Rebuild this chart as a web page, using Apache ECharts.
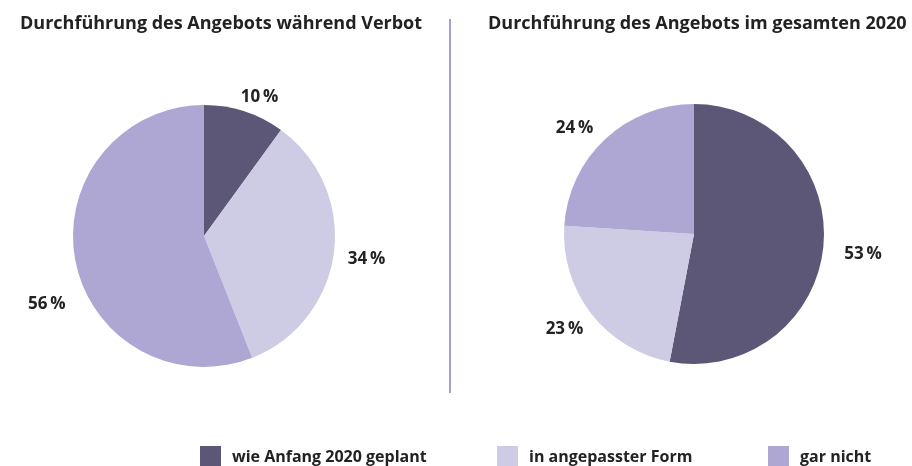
<!DOCTYPE html>
<html>
<head>
<meta charset="utf-8">
<script src="https://cdn.jsdelivr.net/npm/echarts@6/dist/echarts.min.js"></script>
<style>
	html, body { margin: 0; padding: 0; background: #fff; }
	#chart { width: 912px; height: 466px; }
</style>
</head>
<body>
<div id="chart"></div>
<script>
const categories = ["wie Anfang 2020 geplant", "in angepasster Form", "gar nicht"];
const verbotValues = [10, 34, 56];
const gesamtValues = [53, 23, 24];
const titles = ["Durchführung des Angebots während Verbot", "Durchführung des Angebots im gesamten 2020"];

const colors = ["#5c5776", "#cecbe5", "#afa7d3"];
const font = "'Open Sans', sans-serif";

// small nudges so the labels sit where the reference puts them
const verbotNudge = [[-17, -1], [-9, 5], [13, 41]];
const gesamtNudge = [[-2, 7], [12, 7], [7, -1]];

const chart = echarts.init(document.getElementById("chart"), null, { renderer: "canvas" });

function toData(values) {
	return values.map((v, i) => ({ name: categories[i], value: v }));
}

function pieSeries(values, center, radius, nudge) {
	return {
		type: "pie",
		center: center,
		radius: radius,
		startAngle: 90,
		clockwise: true,
		animation: false,
		data: toData(values),
		itemStyle: { borderWidth: 0 },
		label: {
			show: true,
			position: "outside",
			formatter: "{c}\u2009%",
			color: "#222",
			fontFamily: font,
			fontWeight: "bold",
			fontSize: 17,
		},
		labelLine: { show: false, length: 14, length2: 4 },
		labelLayout: (params) => ({ dx: nudge[params.dataIndex][0], dy: nudge[params.dataIndex][1] }),
		emphasis: { disabled: true },
	};
}

// one legend per item so the spacing follows the reference
const legendLefts = [200, 497, 768];
const legends = categories.map((name, i) => ({
	data: [name],
	left: legendLefts[i],
	top: 446,
	padding: 0,
	icon: "rect",
	itemWidth: 21,
	itemHeight: 22,
	itemGap: 0,
	selectedMode: false,
	textStyle: {
		color: "#222",
		fontFamily: font,
		fontWeight: "bold",
		fontSize: 16,
		padding: [0, 0, 0, 6],
	},
}));

const titleStyle = { color: "#222", fontFamily: font, fontWeight: "bold", fontSize: 18 };

const option = {
	color: colors,
	title: [
		{ text: titles[0], left: 20, top: 15, padding: 0, textStyle: titleStyle },
		{ text: titles[1], left: 488, top: 15, padding: 0, textStyle: titleStyle },
	],
	legend: legends,
	graphic: [
		{
			type: "line",
			shape: { x1: 450, y1: 19, x2: 450, y2: 393 },
			style: { stroke: "#a89fd0", lineWidth: 2 },
		},
	],
	series: [
		pieSeries(verbotValues, [204, 236], 131, verbotNudge),
		pieSeries(gesamtValues, [694, 234], 130, gesamtNudge),
	],
};

chart.setOption(option);
</script>
</body>
</html>
